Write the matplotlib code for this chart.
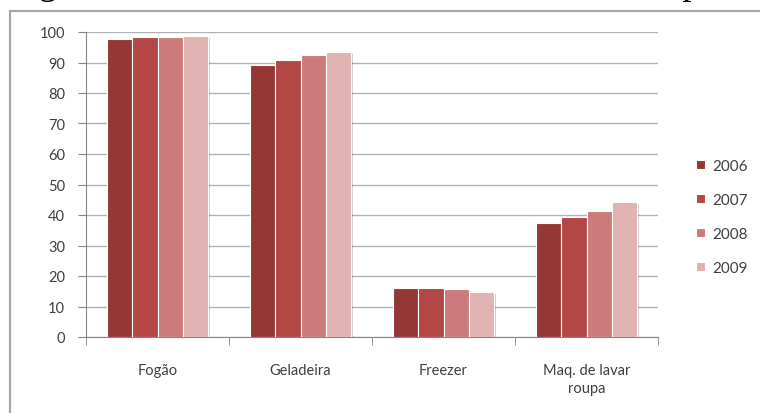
import matplotlib
matplotlib.use("Agg")
import matplotlib.pyplot as plt
import numpy as np
from matplotlib.patches import Rectangle
import matplotlib.patheffects as pe

# posse de bens duraveis nos domicilios (%)
categorias = ["Fogão", "Geladeira", "Freezer", "Maq. de lavar\nroupa"]
anos = ["2006", "2007", "2008", "2009"]
v2006 = [97.7, 89.2, 16.0, 37.3]
v2007 = [98.3, 90.7, 16.0, 39.2]
v2008 = [98.4, 92.3, 15.7, 41.4]
v2009 = [98.6, 93.4, 14.8, 44.2]
cores = ["#943735", "#b24745", "#cc7a7a", "#e0b2b2"]

plt.rcParams["font.family"] = ["Lato", "DejaVu Sans"]

fig = plt.figure(figsize=(7.6, 4.14), dpi=100)
ax = fig.add_axes([86/760, 1-338/414, (658-86)/760, (338-33)/414])

x = np.arange(len(categorias))
w = 0.178
series = [v2006, v2007, v2008, v2009]
todas = []
for i, vals in enumerate(series):
    barras = ax.bar(x + (i - 1.5) * w, vals, w, color=cores[i], edgecolor="white",
                    linewidth=0.8, label=anos[i], zorder=3)
    todas.extend(barras)

ax.set_xlim(-0.5, len(categorias) - 0.5)
ax.set_ylim(0, 100)
ax.set_yticks(range(0, 101, 10))
ax.yaxis.grid(True, color="#b3b3b3", linewidth=1)
ax.set_axisbelow(True)

ax.set_xticks(x)
ax.set_xticklabels(categorias, fontsize=10.5, color="#404040", va="top", linespacing=1.3)
ax.set_xticks(np.arange(-0.5, len(categorias)), minor=True)
ax.tick_params(axis="x", which="major", length=0, pad=19)
ax.tick_params(axis="x", which="minor", length=6, color="#868686", direction="out")
ax.tick_params(axis="y", length=6, color="#868686", labelsize=10.5, labelcolor="#404040", pad=9)

for s in ["top", "right"]:
    ax.spines[s].set_visible(False)
ax.spines["left"].set_color("#868686")
ax.spines["bottom"].set_color("#868686")

leg = fig.legend(loc="upper left", bbox_to_anchor=(690/760, 1-154/414), frameon=False,
                 fontsize=11, handlelength=0.55, handleheight=0.55, handletextpad=0.5,
                 labelspacing=1.3, borderaxespad=0)
for t in leg.get_texts():
    t.set_color("#404040")

# sombra leve nas barras (depois da legenda, para nao passar aos marcadores)
sombra = [pe.SimplePatchShadow(offset=(1.5, -1.5), shadow_rgbFace="#000000", alpha=0.18), pe.Normal()]
for b in todas:
    b.set_path_effects(sombra)

# moldura do grafico
fig.add_artist(Rectangle((10/760, -0.1), 1.0, (414-12)/414 + 0.1, transform=fig.transFigure,
                         fill=False, edgecolor="#a6a6a6", linewidth=1.6))

# titulo da figura, cortado na borda de cima
fig.text(8/760, 1 + 6.5/414, "Figura 36 - Domicílios com bens duráveis no período de 2006 a 2009",
         fontsize=26.5, family="Liberation Serif", va="baseline", ha="left")

fig.savefig("out.png", dpi=100)
